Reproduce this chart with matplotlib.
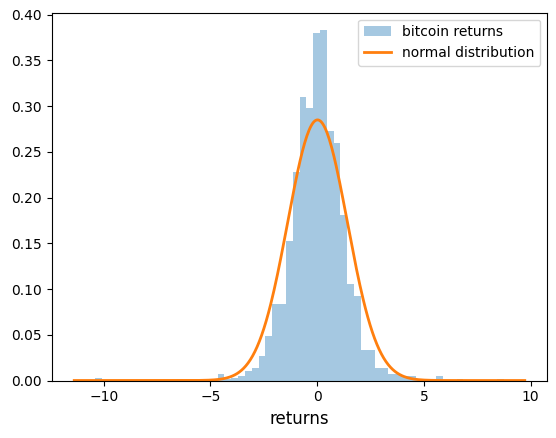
import matplotlib
matplotlib.use('Agg')
from matplotlib import pyplot as plt
import numpy as np

# histogram of returns (density), 66 equal bins
HIST_LO = -11.38
HIST_HI = 9.73
DENSITY = [
    0, 0, 0, 0.003, 0, 0, 0, 0, 0, 0,                 # 0-9
    0, 0, 0, 0, 0, 0.0016, 0, 0, 0.0016, 0.0016,      # 10-19
    0.0016, 0.0072, 0.0016, 0.003, 0.0044, 0.010, 0.0135, 0.027, 0.0485, 0.084,  # 20-29
    0.084, 0.152, 0.228, 0.310, 0.298, 0.380, 0.383, 0.273, 0.260, 0.181,        # 30-39
    0.105, 0.092, 0.033, 0.033, 0.0135, 0.0135, 0.0072, 0.0072, 0.005, 0.005,    # 40-49
    0.0016, 0, 0.0016, 0.005, 0, 0, 0.0016, 0, 0, 0,  # 50-59
    0, 0, 0.0016, 0, 0, 0,                            # 60-65
]

# fitted normal distribution
MU = 0.02
SIGMA = 1.40

edges = np.linspace(HIST_LO, HIST_HI, len(DENSITY) + 1)
centers = (edges[:-1] + edges[1:]) / 2

x = np.linspace(HIST_LO, HIST_HI, 400)
pdf = np.exp(-0.5 * ((x - MU) / SIGMA) ** 2) / (SIGMA * np.sqrt(2 * np.pi))

fig = plt.figure(figsize=(5.56, 4.38), dpi=100)
ax = fig.add_axes([51.7 / 556, 1 - 380.5 / 438, 495.6 / 556, 367.8 / 438])
ax.hist(centers, bins=edges, weights=DENSITY, histtype='stepfilled',
        color='C0', alpha=0.4, label='bitcoin returns')
ax.plot(x, pdf, color='C1', linewidth=2, label='normal distribution')
ax.set_xlabel('returns', fontsize=12)
ax.legend(loc='upper right')
fig.savefig('out.png', dpi=100)
